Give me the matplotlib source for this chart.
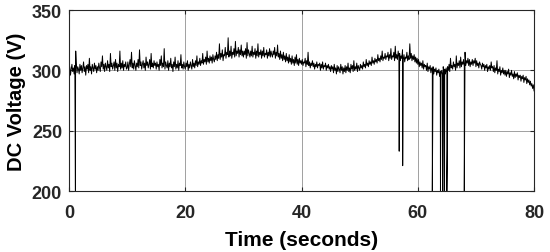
import matplotlib
matplotlib.use("Agg")
import matplotlib.pyplot as plt
import numpy as np

plt.rcParams['font.family'] = ['Liberation Sans', 'DejaVu Sans']

# voltage samples, one every 0.125 s (two lines per 5 s)
volts = [
    298, 303, 296, 301, 305, 299, 302, 297, 304, 300, 306, 298, 303, 301, 297, 305, 300, 304, 298, 302,
    307, 299, 303, 296, 304, 301, 305, 298, 310, 300, 303, 297, 305, 302, 299, 306, 301, 304, 298, 303,
    300, 306, 302, 299, 307, 303, 312, 301, 305, 299, 306, 303, 300, 308, 302, 305, 299, 314, 303, 306,
    301, 304, 307, 300, 309, 302, 306, 299, 305, 303, 316, 301, 306, 302, 308, 300, 305, 303, 307, 301,
    302, 307, 300, 305, 309, 303, 315, 302, 306, 301, 308, 304, 300, 306, 303, 309, 302, 317, 304, 307,
    301, 305, 308, 302, 306, 300, 311, 304, 307, 302, 305, 309, 301, 314, 303, 306, 302, 308, 304, 306,
    301, 307, 303, 305, 300, 309, 304, 312, 302, 306, 303, 318, 301, 307, 304, 302, 308, 300, 306, 303,
    310, 302, 305, 299, 307, 303, 311, 301, 305, 302, 308, 300, 306, 304, 313, 302, 305, 301, 307, 303,
    301, 306, 303, 308, 300, 305, 302, 307, 304, 301, 309, 303, 306, 302, 308, 304, 312, 303, 307, 305,
    310, 304, 308, 306, 314, 305, 309, 307, 311, 305, 316, 307, 310, 306, 312, 308, 311, 306, 313, 309,
    307, 312, 309, 315, 308, 313, 310, 322, 309, 314, 311, 317, 308, 313, 312, 319, 310, 315, 313, 327,
    311, 316, 312, 320, 310, 315, 313, 318, 311, 324, 312, 316, 314, 319, 311, 317, 313, 321, 312, 316,
    311, 316, 313, 318, 310, 323, 312, 317, 314, 311, 316, 312, 320, 311, 315, 313, 318, 310, 316, 312,
    322, 311, 315, 313, 317, 310, 316, 312, 319, 311, 314, 313, 317, 310, 315, 312, 318, 311, 316, 313,
    311, 316, 313, 319, 310, 315, 312, 321, 311, 314, 309, 316, 310, 313, 308, 315, 309, 312, 307, 314,
    308, 311, 306, 313, 307, 310, 305, 312, 306, 309, 304, 311, 306, 313, 305, 309, 304, 310, 306, 308,
    305, 309, 304, 307, 306, 310, 303, 308, 305, 315, 304, 307, 302, 306, 304, 308, 303, 306, 301, 305,
    303, 307, 302, 305, 304, 306, 300, 305, 302, 307, 301, 304, 303, 306, 300, 304, 302, 305, 301, 303,
    299, 304, 301, 303, 298, 305, 300, 302, 297, 304, 299, 303, 301, 298, 305, 300, 303, 297, 302, 299,
    304, 298, 303, 300, 306, 299, 302, 298, 305, 301, 304, 299, 308, 300, 303, 301, 306, 299, 304, 302,
    300, 305, 302, 304, 301, 307, 303, 305, 302, 309, 304, 306, 303, 308, 305, 307, 304, 311, 306, 308,
    305, 310, 307, 309, 306, 313, 308, 310, 307, 312, 309, 316, 308, 311, 310, 314, 309, 312, 311, 315,
    308, 313, 310, 318, 309, 312, 311, 315, 308, 320, 310, 313, 309, 316, 311, 314, 308, 312, 310, 317,
    309, 313, 307, 311, 310, 315, 308, 312, 309, 322, 310, 314, 308, 312, 309, 313, 307, 311, 306, 310,
    305, 309, 303, 307, 304, 306, 302, 308, 301, 305, 303, 304, 300, 306, 299, 303, 301, 304, 298, 302,
    300, 303, 297, 301, 299, 302, 296, 300, 298, 301, 295, 299, 297, 300, 296, 303, 298, 301, 297, 302,
    298, 303, 300, 305, 299, 310, 302, 304, 301, 307, 303, 305, 300, 312, 302, 306, 304, 308, 302, 311,
    303, 307, 305, 309, 303, 315, 304, 308, 306, 310, 304, 309, 303, 307, 305, 309, 304, 308, 306, 310,
    303, 308, 304, 306, 302, 307, 305, 304, 301, 306, 303, 305, 300, 304, 302, 305, 299, 303, 301, 304,
    300, 307, 302, 303, 299, 304, 298, 302, 300, 308, 297, 301, 299, 303, 296, 300, 298, 302, 297, 300,
    296, 300, 295, 299, 297, 301, 294, 298, 296, 300, 295, 297, 293, 299, 294, 297, 295, 298, 292, 296,
    294, 296, 291, 295, 293, 296, 290, 294, 292, 295, 289, 293, 290, 292, 288, 291, 287, 289, 285, 288,
    283,
]
times = [0.125 * i for i in range(len(volts))]

# dropouts / spikes
spike_t = [1.10, 1.15, 56.8, 57.4, 62.5, 63.9, 64.3, 64.6, 65.0, 65.1, 68.0]
spike_v = [200, 316, 233, 221, 200, 200, 200, 200, 200, 235, 200]

t = np.array(times + spike_t)
v = np.array(volts + spike_v, dtype=float)
order = np.argsort(t, kind='stable')
t, v = t[order], v[order]

fig = plt.figure(figsize=(5.5, 2.53), dpi=100)
ax = fig.add_axes([0.1255, 0.241, 0.8455, 0.7155])

ax.plot(t, v, color='black', lw=0.7)

ax.set_xlim(0, 80)
ax.set_ylim(200, 350)
ax.set_xticks([0, 20, 40, 60, 80])
ax.set_yticks([200, 250, 300, 350])
ax.grid(True, color='#a0a0a0', lw=0.7)
ax.tick_params(direction='in', length=3, top=True, right=True,
               labelsize=13, colors='#262626')
ax.tick_params(axis='x', pad=9)
ax.tick_params(axis='y', pad=5)
for lab in ax.get_xticklabels() + ax.get_yticklabels():
    lab.set_fontweight('bold')
for s in ax.spines.values():
    s.set_color('#262626')
    s.set_linewidth(0.8)

ax.set_xlabel('Time (seconds)', fontsize=15, fontweight='bold', labelpad=7)
ax.set_ylabel('DC Voltage (V)', fontsize=14.5, fontweight='bold', labelpad=4)

fig.savefig('out.png', dpi=100)
